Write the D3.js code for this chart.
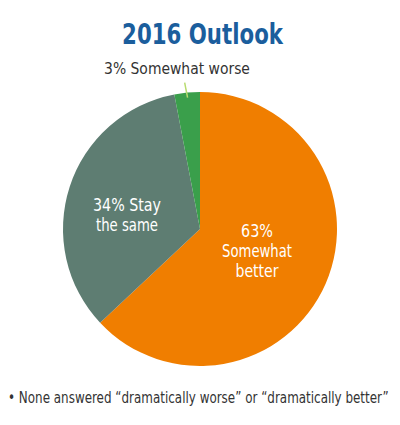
<!DOCTYPE html>
<html><head><meta charset="utf-8">
<script src="https://cdn.jsdelivr.net/npm/d3@7"></script>
<style>
html,body{margin:0;padding:0;background:#fff;}
text{font-family:"DejaVu Sans Condensed","DejaVu Sans",sans-serif;font-stretch:condensed;}
</style></head>
<body>
<svg id="c" width="400" height="425"></svg>
<script>
const categories = ["Somewhat better", "Stay the same", "Somewhat worse"];
const values = [63, 34, 3];
const labels = [["63%", "Somewhat", "better"], ["34% Stay", "the same"], ["3% Somewhat worse"]];
const colors = ["#F07E00", "#5E7D72", "#3A9F4B"];
const title = "2016 Outlook";
const footnote = "\u2022 None answered \u201Cdramatically worse\u201D or \u201Cdramatically better\u201D";

const svg = d3.select("#c");
const cx = 200, cy = 229, r = 137;

// draw a text line squeezed horizontally to a target width (mimics a condensed face)
function line(t, x, y, w, size, fill, anchor, weight) {
  const g = svg.append("g");
  const el = g.append("text").attr("font-size", size).attr("fill", fill)
    .attr("font-weight", weight || "normal").attr("text-anchor", anchor).text(t);
  const nat = el.node().getComputedTextLength();
  const k = Math.min(1, w / nat);
  g.attr("transform", `translate(${x},${y}) scale(${k},1)`);
  return el;
}

line(title, 202.5, 44, 161, 28, "#1B5E9D", "middle", "bold");

const pie = d3.pie().sort(null).value(d => d)(values);
const arc = d3.arc().innerRadius(0).outerRadius(r);
const g = svg.append("g").attr("transform", `translate(${cx},${cy})`);
g.selectAll("path").data(pie).join("path").attr("d", arc)
  .attr("fill", (d, i) => colors[i]);

// leader line for small slice
const small = pie[2];
const mid = (small.startAngle + small.endAngle) / 2;
const p1 = [Math.sin(mid) * (r - 5), -Math.cos(mid) * (r - 5)];
const p2 = [Math.sin(mid) * (r + 10) - 1.5, -Math.cos(mid) * (r + 10)];
g.append("line").attr("x1", p1[0]).attr("y1", p1[1]).attr("x2", p2[0]).attr("y2", p2[1])
  .attr("stroke", "#B8DB6E").attr("stroke-width", 1.5);

line(labels[2][0], 177, 74, 146, 15.5, "#333", "middle");

// inside labels
const w1 = [68, 62], w0 = [32, 70, 43];
labels[1].forEach((t, i) => line(t, 127, 211 + i * 20, w1[i], 18, "#fff", "middle"));
labels[0].forEach((t, i) => line(t, 257, 237 + i * 20, w0[i], 18, "#fff", "middle"));

line(footnote, 8, 403, 381, 15, "#333", "start");
</script>
</body></html>
